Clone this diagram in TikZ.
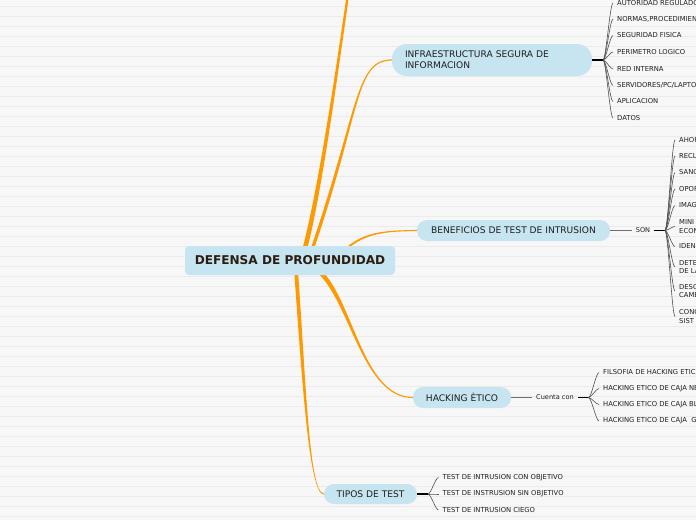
\documentclass[tikz,border=0pt]{standalone}
\usepackage{fontspec}
\setmainfont{DejaVu Sans}
\usetikzlibrary{calc}
\definecolor{bgc}{HTML}{F7F7F7}
\definecolor{gridc}{HTML}{EBEBEB}
\definecolor{nodefill}{HTML}{C6E5F0}
\definecolor{branchc}{HTML}{FF9900}
\definecolor{rootink}{HTML}{2B1D12}
\definecolor{ink}{HTML}{1E1E1E}
\definecolor{fanc}{HTML}{505050}
\definecolor{linkc}{HTML}{707070}
\pgfdeclarelayer{back}
\pgfdeclarelayer{links}
\pgfsetlayers{back,links,main}
% tapered branch: P0 P1 P2 P3 (coordinate names), half width at start, half width at end
\newcommand\taperline[6]{%
  \fill[branchc] ($(#1)!#5!90:(#2)$) .. controls ($(#2)!#5!-90:(#1)$) and ($(#3)!#6!90:(#4)$) .. ($(#4)!#6!-90:(#3)$)
   -- ($(#4)!#6!90:(#3)$) .. controls ($(#3)!#6!-90:(#4)$) and ($(#2)!#5!90:(#1)$) .. ($(#1)!#5!-90:(#2)$) -- cycle;}
\tikzset{
  rootbox/.style={fill=nodefill, rounded corners=4pt, minimum width=210pt, minimum height=29pt,
    inner sep=0pt, font=\fontsize{12.1}{14}\selectfont\bfseries, text=rootink},
  topic/.style={fill=nodefill, inner sep=0pt, font=\fontsize{9.1}{11}\selectfont, text=ink},
  item/.style={anchor=west, inner xsep=4pt, inner ysep=1pt, font=\fontsize{6.8}{8.5}\selectfont,
    text=ink, align=left},
  lbl/.style={inner xsep=4pt, inner ysep=1pt, font=\fontsize{6.6}{8}\selectfont, text=ink},
  stub/.style={draw=black, line width=1.6pt},
  fanline/.style={draw=fanc, line width=0.6pt},
  linkline/.style={draw=linkc, line width=0.7pt},
}
\begin{document}
\begin{tikzpicture}[x=1pt,y=-1pt]
\useasboundingbox (0,0) rectangle (696,520);
\clip (0,0) rectangle (696,520);
\begin{pgfonlayer}{back}
  \fill[bgc] (0,0) rectangle (696,520);
  \foreach \yy in {6,16,...,516} \draw[gridc, line width=0.8pt] (0,\yy) -- (696,\yy);
\end{pgfonlayer}

% main topics
\node[rootbox] (root) at (290,260.5) {DEFENSA DE PROFUNDIDAD};
\node[topic, minimum width=200pt, minimum height=32pt, rounded corners=15pt,
      text width=174pt, align=left] (infra) at (492,60) {INFRAESTRUCTURA SEGURA DE\\INFORMACION};
\node[topic, minimum width=193pt, minimum height=21pt, rounded corners=10pt] (benef) at (513.5,230.5) {BENEFICIOS DE TEST DE INTRUSION};
\node[topic, minimum width=98pt, minimum height=21pt, rounded corners=10pt] (hack) at (462,397.5) {HACKING ÈTICO};
\node[topic, minimum width=93pt, minimum height=20pt, rounded corners=10pt] (tipos) at (370.5,494) {TIPOS DE TEST};

% orange branches
\begin{pgfonlayer}{links}
  \coordinate (up) at (350,-20);
  \coordinate (a0) at ($(root.north)+(14,6)$);
  \coordinate (a1) at (318,200);
  \coordinate (a2) at (333,100);
  \taperline{a0}{a1}{a2}{up}{2.3pt}{1.2pt}
  \coordinate (b0) at ($(root.north)+(22,4)$);
  \coordinate (b1) at (360,110);
  \coordinate (b2) at (355,60);
  \coordinate (b3) at (infra.west);
  \taperline{b0}{b1}{b2}{b3}{1.6pt}{0.6pt}
  \coordinate (c0) at ($(root.north)+(55,4)$);
  \coordinate (c1) at (365,232);
  \coordinate (c2) at (385,231);
  \coordinate (c3) at (benef.west);
  \taperline{c0}{c1}{c2}{c3}{1.0pt}{0.55pt}
  \coordinate (d0) at ($(root.south)+(28,-5)$);
  \coordinate (d1) at (352,300);
  \coordinate (d2) at (362,397.5);
  \coordinate (d3) at (hack.west);
  \taperline{d0}{d1}{d2}{d3}{2.2pt}{0.55pt}
  \coordinate (e0) at ($(root.south)+(6,-5)$);
  \coordinate (e1) at (304,380);
  \coordinate (e2) at (309,494);
  \coordinate (e3) at (tipos.west);
  \taperline{e0}{e1}{e2}{e3}{1.9pt}{0.6pt}
\end{pgfonlayer}

% INFRAESTRUCTURA items
\coordinate (jA) at (603,60);
\draw[stub] (infra.east) -- (jA);
\node[item] (ia1) at (613,3) {AUTORIDAD REGULADO};
\node[item] (ia2) at (613,19) {NORMAS,PROCEDIMIENT};
\node[item] (ia3) at (613,35.5) {SEGURIDAD FISICA};
\node[item] (ia4) at (613,52) {PERIMETRO LOGICO};
\node[item] (ia5) at (613,69) {RED INTERNA};
\node[item] (ia6) at (613,85.5) {SERVIDORES/PC/LAPTO};
\node[item] (ia7) at (613,101.5) {APLICACION};
\node[item] (ia8) at (613,118) {DATOS};
\foreach \n in {ia1,ia2,ia3,ia4,ia5,ia6,ia7,ia8}
  \draw[fanline] (jA) .. controls +(3,0) and +(-3,0) .. (\n.west);

% BENEFICIOS items
\node[lbl] (son) at (643,230.5) {SON};
\draw[linkline] (benef.east) -- (son.west);
\coordinate (jB) at (665,230.5);
\draw[stub] (son.east) -- (jB);
\node[item] (ib1) at (675,140) {AHOR};
\node[item] (ib2) at (675,156) {RECL};
\node[item] (ib3) at (675,172.5) {SANC};
\node[item] (ib4) at (675,189) {OPOR};
\node[item] (ib5) at (675,205.5) {IMAG};
\node[item] (ib6) at (675,226.5) {MINI\\ECON};
\node[item] (ib7) at (675,246.5) {IDEN};
\node[item] (ib8) at (675,267) {DETE\\DE LA};
\node[item] (ib9) at (675,291) {DESC\\CAME};
\node[item] (ib10) at (675,316.5) {CONC\\SIST};
\foreach \n in {ib1,ib2,ib3,ib4,ib5,ib6,ib7,ib8,ib9,ib10}
  \draw[fanline] (jB) .. controls +(3,0) and +(-3,0) .. (\n.west);

% HACKING items
\node[lbl] (cuenta) at (555,397.5) {Cuenta con};
\draw[linkline] (hack.east) -- (cuenta.west);
\coordinate (jC) at (588.5,397.5);
\draw[stub] (cuenta.east) -- (jC);
\node[item] (ic1) at (599,372.5) {FILSOFIA DE HACKING ETIC};
\node[item] (ic2) at (599,388.5) {HACKING ETICO DE CAJA NE};
\node[item] (ic3) at (599,404.5) {HACKING ETICO DE CAJA BL};
\node[item] (ic4) at (599,421) {HACKING ETICO DE CAJA \ G};
\foreach \n in {ic1,ic2,ic3,ic4}
  \draw[fanline] (jC) .. controls +(3,0) and +(-3,0) .. (\n.west);

% TIPOS items
\coordinate (jD) at (428,494);
\draw[stub] (tipos.east) -- (jD);
\node[item] (id1) at (438.5,477.5) {TEST DE INTRUSION CON OBJETIVO};
\node[item] (id2) at (438.5,494) {TEST DE INSTRUSION SIN OBJETIVO};
\node[item] (id3) at (438.5,510) {TEST DE INTRUSION CIEGO};
\foreach \n in {id1,id2,id3}
  \draw[fanline] (jD) .. controls +(3,0) and +(-3,0) .. (\n.west);
\end{tikzpicture}
\end{document}
